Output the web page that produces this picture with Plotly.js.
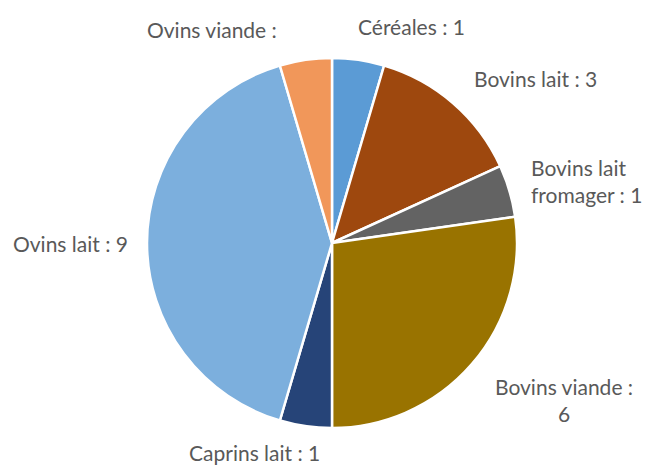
<!DOCTYPE html>
<html><head><meta charset="utf-8">
<script src="https://cdn.plot.ly/plotly-3.0.1.min.js"></script>
<style>body{margin:0;background:#fff}#c{width:649px;height:466px}</style>
</head><body><div id="c"></div>
<script>
const categories = ["Céréales","Bovins lait","Bovins lait fromager","Bovins viande","Caprins lait","Ovins lait","Ovins viande"];
const values = [1,3,1,6,1,9,1];
const colors = ["#5B9BD5","#9E480E","#636363","#997300","#264478","#7CAFDD","#F1975A"];
const labelTexts = ["Céréales : 1","Bovins lait : 3","Bovins lait<br>fromager : 1","Bovins viande :<br>6","Caprins lait : 1","Ovins lait : 9","Ovins viande :"];
const labelPos = [[411,26,"center"],[535,78,"center"],[529,181,"left"],[564,400,"center"],[254,452,"center"],[70,243,"center"],[212,29,"center"]];
const W=649,H=466;
const annotations = labelTexts.map((t,i)=>({
  text:t, x:labelPos[i][0]/W, y:1-labelPos[i][1]/H, xref:"paper", yref:"paper",
  xanchor:labelPos[i][2], yanchor:"middle", align:labelPos[i][2], showarrow:false,
  font:{family:"Lato, 'Open Sans', sans-serif", size:21, color:"#595959"}
}));
const cx=332, cy=243, r=185;
Plotly.newPlot("c",[{
  type:"pie", labels:categories, values:values, sort:false, direction:"clockwise", rotation:0,
  marker:{colors:colors, line:{color:"#ffffff", width:2.5}}, textinfo:"none", hoverinfo:"label+value",
  domain:{x:[(cx-r)/W,(cx+r)/W], y:[(H-cy-r)/H,(H-cy+r)/H]}
}],{
  width:W, height:H, margin:{l:0,r:0,t:0,b:0}, showlegend:false,
  paper_bgcolor:"#fff", annotations:annotations
},{displayModeBar:false});
</script></body></html>
